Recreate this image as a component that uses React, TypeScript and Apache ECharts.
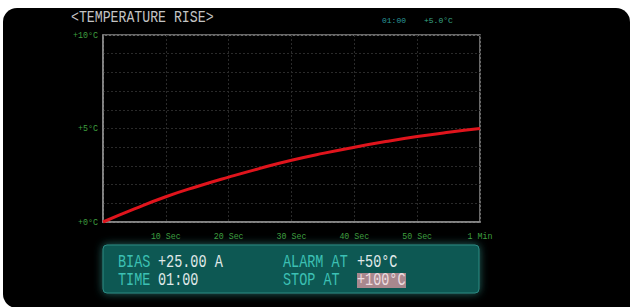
import React, { useEffect, useRef } from "react";
import * as echarts from "echarts";

const seconds = [0, 5, 10, 15, 20, 25, 30, 35, 40, 45, 50, 55, 60];
const tempRise = [0, 0.7, 1.35, 1.9, 2.4, 2.87, 3.3, 3.67, 4.0, 4.3, 4.57, 4.8, 5.0];
const xTickValues = [10, 20, 30, 40, 50, 60];
const xTickLabels = ["10 Sec", "20 Sec", "30 Sec", "40 Sec", "50 Sec", "1 Min"];
const yTickValues = [0, 5, 10];
const yTickLabels = ["+0°C", "+5°C", "+10°C"];
const titleText = "<TEMPERATURE RISE>";
const readoutTime = "01:00";
const readoutTemp = "+5.0°C";
const panelLabels = ["BIAS", "TIME", "ALARM AT", "STOP AT"];
const panelValues = ["+25.00 A", "01:00", "+50°C", "+100°C"];

const MONO = "'Liberation Mono', 'DejaVu Sans Mono', monospace";

export default function App() {
  const ref = useRef<HTMLDivElement>(null);
  useEffect(() => {
    if (!ref.current) return;
    const chart = echarts.init(ref.current, null, { renderer: "svg" });
    const tallText = (x: number, y: number, text: string, fill: string, size = 13.5, sy = 1.3) => ({
      type: "text",
      x,
      y,
      scaleY: sy,
      z: 10,
      style: {
        text,
        fill,
        font: `${size}px ${MONO}`,
        textVerticalAlign: "middle",
        textAlign: "left",
      },
    });
    chart.setOption({
      animation: false,
      backgroundColor: "#ffffff",
      graphic: [
        {
          type: "rect",
          z: -10,
          shape: { x: 3, y: 8, width: 627, height: 300, r: [14, 14, 0, 14] },
          style: { fill: "#000000" },
        },
        tallText(71, 18, titleText, "#c4c4c4", 13.2, 1.25),
        {
          type: "text",
          x: 382,
          y: 20,
          style: { text: readoutTime, fill: "#2a9a9c", font: `8px ${MONO}`, textVerticalAlign: "middle" },
        },
        {
          type: "text",
          x: 424,
          y: 20,
          style: { text: readoutTemp, fill: "#3aa888", font: `8px ${MONO}`, textVerticalAlign: "middle" },
        },
        {
          type: "rect",
          z: 5,
          shape: { x: 103, y: 245, width: 376, height: 48, r: 4 },
          style: {
            fill: "#0c5853",
            stroke: "#2c8a84",
            lineWidth: 1,
            shadowBlur: 8,
            shadowColor: "rgba(60,190,180,0.55)",
          },
        },
        {
          type: "rect",
          z: 6,
          shape: { x: 357, y: 273, width: 49, height: 15 },
          style: { fill: "#a8888e" },
        },
        tallText(118, 263, panelLabels[0], "#3cc0b4"),
        tallText(158, 263, panelValues[0], "#e0eaea"),
        tallText(118, 281, panelLabels[1], "#3cc0b4"),
        tallText(158, 281, panelValues[1], "#e0eaea"),
        tallText(283, 263, panelLabels[2], "#3cc0b4"),
        tallText(357, 263, panelValues[2], "#e0eaea"),
        tallText(283, 281, panelLabels[3], "#3cc0b4"),
        tallText(357, 281, panelValues[3], "#ecdde0"),
      ],
      grid: {
        left: 103,
        top: 35,
        width: 377,
        height: 187,
        show: true,
        borderColor: "#8c8c8c",
        borderWidth: 1.5,
        backgroundColor: "transparent",
      },
      xAxis: {
        type: "value",
        min: 0,
        max: 60,
        interval: 10,
        axisLine: { show: true, lineStyle: { color: "#8c8c8c", width: 1.5 } },
        axisTick: { show: false },
        splitLine: { show: true, lineStyle: { color: "#2a2a2a", type: [2, 2], width: 1 } },
        axisLabel: {
          color: "#3f9f3f",
          fontSize: 8.3,
          fontFamily: MONO,
          margin: 10,
          showMinLabel: true,
          showMaxLabel: true,
          formatter: (v: number) => {
            const i = xTickValues.indexOf(v);
            return i >= 0 ? xTickLabels[i] : "";
          },
        },
      },
      yAxis: {
        type: "value",
        min: 0,
        max: 10,
        interval: 1,
        axisLine: { show: true, lineStyle: { color: "#8c8c8c", width: 1.5 } },
        axisTick: { show: false },
        splitLine: { show: true, lineStyle: { color: "#2a2a2a", type: [2, 2], width: 1 } },
        axisLabel: {
          color: "#3f9f3f",
          fontSize: 8.3,
          fontFamily: MONO,
          margin: 5,
          formatter: (v: number) => {
            const i = yTickValues.indexOf(v);
            return i >= 0 ? yTickLabels[i] : "";
          },
        },
      },
      series: [
        {
          type: "line",
          data: seconds.map((s, i) => [s, tempRise[i]]),
          smooth: true,
          symbol: "none",
          lineStyle: { color: "#e0141c", width: 3 },
          z: 3,
        },
      ],
    });
    return () => chart.dispose();
  }, []);
  return (
    <div
      ref={ref}
      style={{ position: "fixed", left: 0, top: 0, width: 630, height: 307 }}
    />
  );
}
